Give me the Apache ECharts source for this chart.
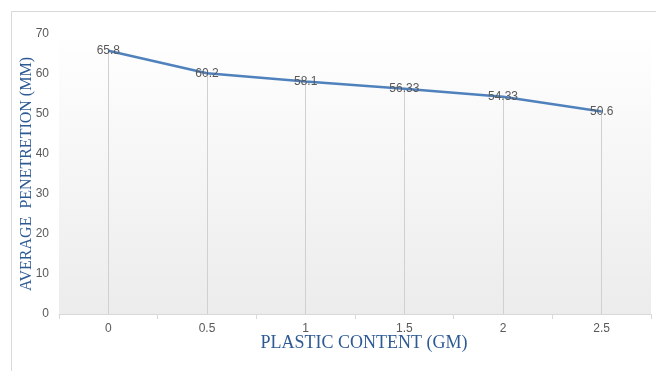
<!DOCTYPE html>
<html>
<head>
<meta charset="utf-8">
<script src="https://cdn.jsdelivr.net/npm/echarts@6/dist/echarts.min.js"></script>
<style>
  html, body { margin: 0; padding: 0; background: #fff; }
  #chart { width: 656px; height: 371px; }
</style>
</head>
<body>
<div id="chart"></div>
<script>
// Plastic content (gm) vs. average penetration (mm)
const categories = ['0', '0.5', '1', '1.5', '2', '2.5'];
const penetration = [65.8, 60.2, 58.1, 56.33, 54.33, 50.6];
const yTicks = { min: 0, max: 70, interval: 10 };

const chart = echarts.init(document.getElementById('chart'));

// vertical drop lines from each point down to the category axis
const dropLines = categories.map((c, i) => [
  { coord: [c, 0] },
  { coord: [c, penetration[i]] }
]);

chart.setOption({
  animation: false,
  graphic: [
    {
      type: 'rect',
      shape: { x: 11.5, y: 11.5, width: 700, height: 400 },
      style: { fill: 'none', stroke: '#d9d9d9', lineWidth: 1 },
      z: -10
    },
    {
      type: 'rect',
      shape: { x: 59, y: 30, width: 592, height: 284 },
      style: {
        fill: new echarts.graphic.LinearGradient(0, 0, 0, 1, [
          { offset: 0, color: '#ffffff' },
          { offset: 1, color: '#ececec' }
        ])
      },
      z: -5
    }
  ],
  grid: { left: 59, right: 5, top: 34, bottom: 57, containLabel: false },
  xAxis: {
    type: 'category',
    data: categories,
    boundaryGap: true,
    name: 'PLASTIC CONTENT (GM)',
    nameLocation: 'middle',
    nameGap: 20,
    nameMoveOverlap: false,
    nameTextStyle: {
      fontFamily: 'Liberation Serif', fontSize: 18, color: '#2e5a94',
      padding: [0, 0, 0, 18]
    },
    axisLine: { lineStyle: { color: '#d9d9d9', width: 1 } },
    axisTick: { show: true, alignWithLabel: false, length: 5, lineStyle: { color: '#d9d9d9' } },
    axisLabel: { color: '#595959', fontSize: 12, fontFamily: 'Liberation Sans', margin: 9 },
    splitLine: { show: false }
  },
  yAxis: {
    type: 'value',
    min: yTicks.min,
    max: yTicks.max,
    interval: yTicks.interval,
    name: 'AVERAGE  PENETRETION (MM)',
    nameLocation: 'middle',
    nameGap: 24,
    nameMoveOverlap: false,
    nameTextStyle: { fontFamily: 'Liberation Serif', fontSize: 16, color: '#2e5a94' },
    axisLine: { show: false },
    axisTick: { show: false },
    axisLabel: { color: '#595959', fontSize: 12, fontFamily: 'Liberation Sans', margin: 10 },
    splitLine: { show: false }
  },
  series: [{
    type: 'line',
    data: penetration,
    symbol: 'circle',
    symbolSize: 1,
    showSymbol: true,
    lineStyle: { color: '#4f81bd', width: 2.5 },
    itemStyle: { color: '#4f81bd' },
    label: {
      show: true,
      position: 'inside',
      color: '#595959',
      fontSize: 12,
      fontFamily: 'Liberation Sans'
    },
    markLine: {
      silent: true,
      symbol: ['none', 'none'],
      label: { show: false },
      lineStyle: { color: '#d0d0d0', width: 1, type: 'solid' },
      data: dropLines,
      z: 1
    },
    z: 3
  }]
});
</script>
</body>
</html>
